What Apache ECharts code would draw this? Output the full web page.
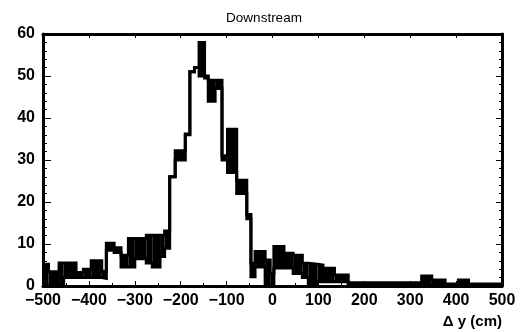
<!DOCTYPE html>
<html><head><meta charset="utf-8">
<script src="https://cdn.jsdelivr.net/npm/echarts@6/dist/echarts.min.js"></script>
<style>html,body{margin:0;padding:0;background:#fff}#c{width:520px;height:332px}</style>
</head><body><div id="c"></div>
<script>
// Segment edges (Δy, cm) and the upper / lower envelope of the histogram in each segment
const edges = [-500,-488,-465,-455,-428,-412,-395,-372,-362,-345,-330,-314,-300,-275,-262,-245,-235,-224,-212,-190,-180,-170,-160,-148,-140,-125,-110,-98,-78,-56,-47,-38,-16,-5,3,25,45,65,78,98,110,135,165,325,347,376,405,427,500];
const upper = [5.2,3.4,5.5,5.5,3.2,4.0,6.0,3.5,10.2,9.1,7.3,11.3,11.3,12.1,12.1,12.1,13.1,26.0,32.2,36.2,51.0,52.0,58.0,50.0,49.0,49.0,31.0,37.3,25.2,17.0,5.4,8.2,6.2,3.0,9.4,7.8,7.3,5.4,5.2,5.0,4.2,2.6,0.8,2.4,1.4,0.5,1.4,0.5];
const lower = [0,0,0,2.0,2.0,2.0,2.0,1.8,8.5,8.0,4.5,4.5,6.5,5.5,4.5,7.0,9.0,26.0,30.0,36.0,51.0,52.0,50.0,49.5,44.0,47.0,30.0,27.0,22.0,16.0,2.2,4.5,0,0,4.3,4.3,3.0,2.0,0,1.0,1.0,1.0,0.3,0.3,0.3,0.2,0.3,0.2];
const xTicks = [-500,-400,-300,-200,-100,0,100,200,300,400,500];
const yTicks = [0,10,20,30,40,50,60];
const titleText = 'Downstream';
const xTitle = '\u0394 y (cm)';

function stepPts(vals){
  const p = [];
  for (let i=0;i<vals.length;i++) p.push([edges[i], vals[i]]);
  p.push([edges[edges.length-1], vals[vals.length-1]]);
  return p;
}
const bandData = upper.map((u,i)=>[edges[i], edges[i+1], lower[i], u]);

const F = 'Liberation Sans, Arial, Helvetica, sans-serif';
const chart = echarts.init(document.getElementById('c'), null, {renderer:'canvas'});
const axisLine = {show:true, onZero:false, lineStyle:{color:'#000', width:3}};
const lineStyle = {color:'#000', width:3, join:'miter', cap:'butt'};
chart.setOption({
  animation:false,
  backgroundColor:'#fff',
  grid:{left:43, right:18, top:34, bottom:46},
  graphic:[
    {type:'text', x:264, y:11, style:{text:titleText, font:'13.5px '+F, fill:'#000', textAlign:'center'}},
    {type:'text', x:502, y:314, style:{text:xTitle, font:'bold 15px '+F, fill:'#000', textAlign:'right'}}
  ],
  xAxis:[
    {type:'value', min:-500, max:500, interval:100, position:'bottom',
     axisLine:axisLine, splitLine:{show:false},
     axisTick:{show:true, inside:true, length:5, lineStyle:{color:'#000', width:1}},
     minorTick:{show:true, splitNumber:2, length:3, lineStyle:{color:'#000'}},
     axisLabel:{margin:7, color:'#000', fontFamily:F, fontWeight:'bold', fontSize:16,
       formatter:v=> xTicks.includes(v) ? String(v).replace('-','\u2212') : ''}},
    {type:'value', min:-500, max:500, interval:100, position:'top',
     axisLine:axisLine, splitLine:{show:false}, axisLabel:{show:false},
     axisTick:{show:true, inside:true, length:4, lineStyle:{color:'#000'}},
     minorTick:{show:true, splitNumber:2, length:2, lineStyle:{color:'#000'}}}
  ],
  yAxis:[
    {type:'value', min:0, max:60, interval:10, position:'left',
     axisLine:axisLine, splitLine:{show:false},
     axisTick:{show:true, inside:true, length:8, lineStyle:{color:'#000'}},
     minorTick:{show:true, splitNumber:5, length:4, lineStyle:{color:'#000'}},
     axisLabel:{margin:8, color:'#000', fontFamily:F, fontWeight:'bold', fontSize:16,
       formatter:v=> yTicks.includes(v) ? String(v) : ''}},
    {type:'value', min:0, max:60, interval:10, position:'right',
     axisLine:axisLine, splitLine:{show:false}, axisLabel:{show:false},
     axisTick:{show:true, inside:true, length:6, lineStyle:{color:'#000'}},
     minorTick:{show:true, splitNumber:5, length:3, lineStyle:{color:'#000'}}}
  ],
  series:[
    {type:'custom', data:bandData, z:2,
     renderItem:(params, api)=>{
       const p0 = api.coord([api.value(0), api.value(3)]);
       const p1 = api.coord([api.value(1), api.value(2)]);
       return {type:'rect', shape:{x:p0[0], y:p0[1], width:p1[0]-p0[0], height:p1[1]-p0[1]},
               style:{fill:'#000'}};
     }},
    {type:'line', data:stepPts(lower), step:'end', symbol:'none', z:3, lineStyle:lineStyle},
    {type:'line', data:stepPts(upper), step:'end', symbol:'none', z:3, lineStyle:lineStyle}
  ]
});
</script></body></html>
